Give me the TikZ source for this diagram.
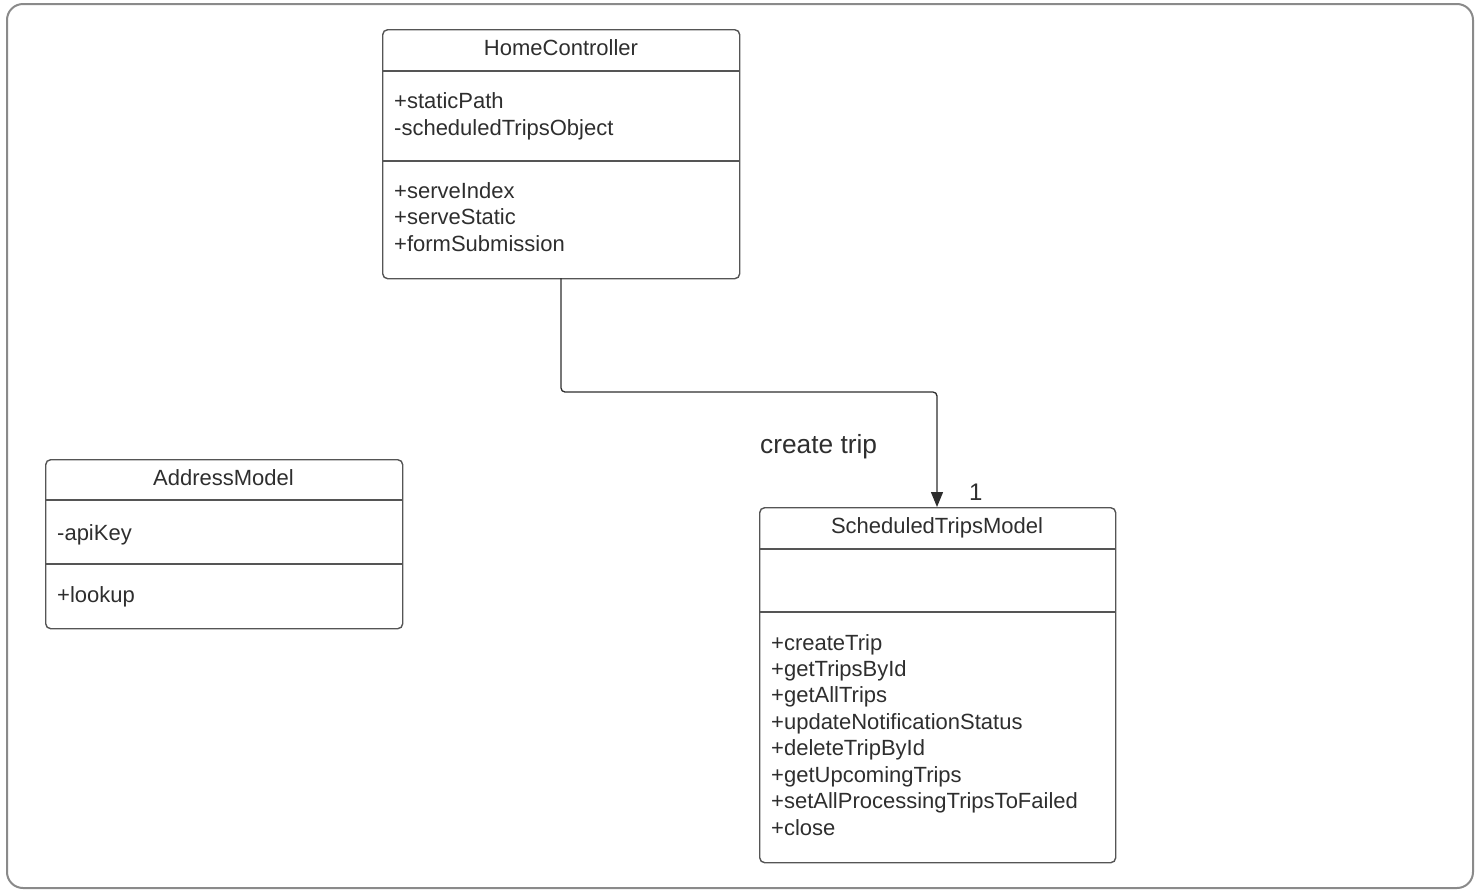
\documentclass[tikz,border=0pt]{standalone}
\usepackage{fontspec}
\setmainfont{Liberation Sans}
\usetikzlibrary{arrows.meta}
\definecolor{ink}{HTML}{2E2E2E}
\definecolor{frame}{HTML}{8A8A8A}
\definecolor{boxline}{HTML}{555555}
\begin{document}
\begin{tikzpicture}[x=1pt,y=-1pt,
  classbox/.style={draw=boxline, line width=1.4pt, rounded corners=5pt, anchor=north west, inner sep=0pt},
  member/.style={anchor=base west, inner sep=0pt, text=ink, font=\fontsize{22}{26}\selectfont},
  title/.style={anchor=base, inner sep=0pt, text=ink, font=\fontsize{22}{26}\selectfont},
  sep/.style={draw=boxline, line width=1.4pt},
  link/.style={draw=ink, line width=1.3pt, rounded corners=4pt, -{Triangle[length=15pt,width=12pt]}}
]
\useasboundingbox (0,0) rectangle (1480,892);
% outer frame
\draw[frame, line width=2pt, rounded corners=16pt] (7,4) rectangle (1473,888);

% HomeController
\node[classbox, minimum width=357pt, minimum height=249pt] (hc) at (382,29) {};
\draw[sep] (382,71) -- (739,71);
\draw[sep] (382,161) -- (739,161);
\node[title] (hcT) at (561,55) {HomeController};
\node[member] (hcA1) at (394,108) {+staticPath};
\node[member] (hcA2) at (394,135) {-scheduledTripsObject};
\node[member] (hcM1) at (394,198) {+serveIndex};
\node[member] (hcM2) at (394,224) {+serveStatic};
\node[member] (hcM3) at (394,251) {+formSubmission};

% AddressModel
\node[classbox, minimum width=357pt, minimum height=169pt] (am) at (45,459) {};
\draw[sep] (45,500) -- (402,500);
\draw[sep] (45,564) -- (402,564);
\node[title] (amT) at (223.5,485) {AddressModel};
\node[member] (amA1) at (57,540) {-apiKey};
\node[member] (amM1) at (57,602) {+lookup};

% ScheduledTripsModel
\node[classbox, minimum width=356pt, minimum height=355pt] (st) at (759,507) {};
\draw[sep] (759,549) -- (1115,549);
\draw[sep] (759,612) -- (1115,612);
\node[title] (stT) at (937,533) {ScheduledTripsModel};
\node[member] (stM1) at (771,650) {+createTrip};
\node[member] (stM2) at (771,676) {+getTripsById};
\node[member] (stM3) at (771,702.5) {+getAllTrips};
\node[member] (stM4) at (771,729) {+updateNotificationStatus};
\node[member] (stM5) at (771,755.5) {+deleteTripById};
\node[member] (stM6) at (771,782) {+getUpcomingTrips};
\node[member] (stM7) at (771,808.5) {+setAllProcessingTripsToFailed};
\node[member] (stM8) at (771,835) {+close};

% association
\coordinate (hcOut) at (561,278);
\coordinate (stIn) at (937,507);
\draw[link] (hcOut) -- (561,392) -- (937,392) -- (stIn);
\node[anchor=base west, inner sep=0pt, text=ink, font=\fontsize{26.3}{31}\selectfont] (lbl) at (760,453) {create trip};
\node[anchor=base west, inner sep=0pt, text=ink, font=\fontsize{24}{28}\selectfont] (mult) at (969,500) {1};
\end{tikzpicture}
\end{document}
